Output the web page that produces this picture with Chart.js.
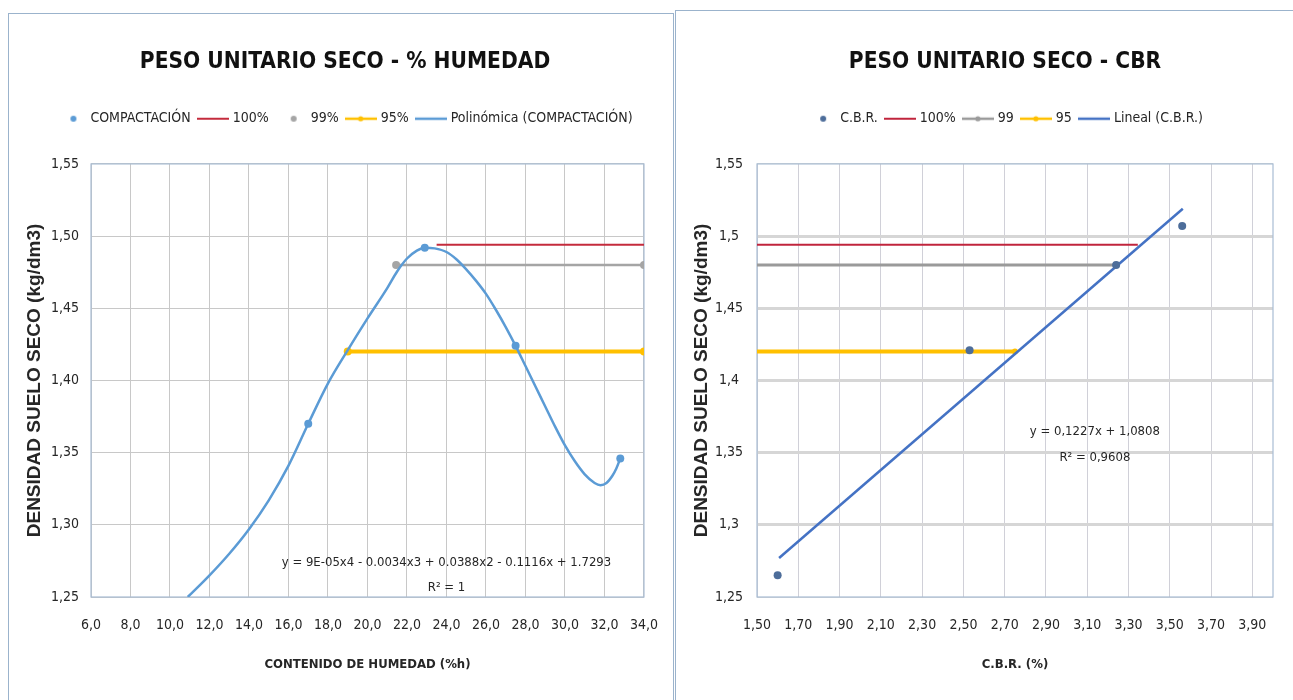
<!DOCTYPE html>
<html><head><meta charset="utf-8">
<script src="https://cdn.jsdelivr.net/npm/chart.js@4.4.0/dist/chart.umd.min.js"></script>
<style>
html,body{margin:0;padding:0;background:#fff;width:1293px;height:700px;overflow:hidden;position:relative;}
.panel{position:absolute;border:1px solid #9bb3cc;background:#fff;box-sizing:border-box;}
#p1{left:8px;top:13px;width:666px;height:720px;}
#p2{left:675px;top:10px;width:640px;height:720px;}
canvas{position:absolute;}
#c1{left:9px;top:14px;width:669px;height:686px;}
#c2{left:676px;top:11px;width:622px;height:689px;}
</style></head><body>
<div class="panel" id="p1"></div><div class="panel" id="p2"></div>
<canvas id="c1" width="669" height="686"></canvas>
<canvas id="c2" width="622" height="689"></canvas>
<script>
// ---------- data: left chart (PESO UNITARIO SECO - % HUMEDAD) ----------
const humedad = [17.0, 22.9, 27.5, 32.8];
const densidad = [1.370, 1.492, 1.424, 1.346];
const polyX = [10.9, 12.0, 13.0, 14.0, 15.0, 16.0, 17.0, 18.0, 19.0, 20.0, 21.0, 21.5, 22.0, 22.5, 22.9, 23.4, 24.0, 24.5, 25.0, 25.5, 26.0, 26.5, 27.0, 27.5, 28.0, 28.5, 29.0, 29.5, 30.0, 30.5, 31.0, 31.5, 31.8, 32.1, 32.4, 32.6, 32.8];
const polyY = [1.250, 1.265, 1.280, 1.297, 1.317, 1.341, 1.370, 1.398, 1.421, 1.443, 1.464, 1.4755, 1.4845, 1.490, 1.492, 1.4915, 1.489, 1.484, 1.477, 1.469, 1.460, 1.449, 1.437, 1.424, 1.410, 1.396, 1.382, 1.368, 1.355, 1.344, 1.335, 1.329, 1.3275, 1.329, 1.334, 1.339, 1.346];
const h100X = [23.5, 34.0], h100Y = [1.494, 1.494];
const h99X = [21.45, 34.0], h99Y = [1.480, 1.480];
const h95X = [19.0, 34.0], h95Y = [1.420, 1.420];
const leftXTicks = [6, 8, 10, 12, 14, 16, 18, 20, 22, 24, 26, 28, 30, 32, 34];
const leftYTicks = [1.25, 1.30, 1.35, 1.40, 1.45, 1.50, 1.55];

// ---------- data: right chart (PESO UNITARIO SECO - CBR) ----------
const cbr = [1.60, 2.53, 3.24, 3.56];
const cbrDens = [1.265, 1.421, 1.480, 1.507];
const linealX = [1.607, 3.563], linealY = [1.277, 1.519];
const c100X = [1.50, 3.345], c100Y = [1.494, 1.494];
const c99X = [1.50, 3.24], c99Y = [1.480, 1.480];
const c95X = [1.50, 2.75], c95Y = [1.420, 1.420];
const rightXTicks = [1.5, 1.7, 1.9, 2.1, 2.3, 2.5, 2.7, 2.9, 3.1, 3.3, 3.5, 3.7, 3.9];
const rightYTicks = [1.25, 1.3, 1.35, 1.4, 1.45, 1.5, 1.55];

const pts = (xs, ys) => xs.map((x, i) => ({x, y: ys[i]}));
const NARROW = '"Liberation Sans Narrow","DejaVu Sans Condensed",sans-serif';
const WIDE = '"Liberation Sans",Arial,sans-serif';
const TXT = '#262626';

function makeSym(kind, color, lw) {
  const c = document.createElement('canvas'); c.width = 32; c.height = 14;
  const g = c.getContext('2d');
  if (kind === 'dot') {
    g.fillStyle = color; g.beginPath(); g.arc(19, 7, 3, 0, Math.PI * 2); g.fill();
  } else {
    g.strokeStyle = color; g.lineWidth = lw; g.beginPath(); g.moveTo(0, 7); g.lineTo(32, 7); g.stroke();
    if (kind === 'lineMarker') { g.fillStyle = color; g.beginPath(); g.arc(16, 7, 2.6, 0, Math.PI * 2); g.fill(); }
  }
  return c;
}
function legendGen(symbols) {
  return function (chart) {
    return chart.data.datasets.map((ds, i) => ({
      text: ds.label, pointStyle: symbols[i], fillStyle: 'rgba(0,0,0,0)', strokeStyle: 'rgba(0,0,0,0)',
      lineWidth: 0, hidden: false, datasetIndex: i, fontColor: TXT
    }));
  };
}
const plotBorder = {
  id: 'plotBorder',
  beforeDatasetsDraw(chart, args, opts) {
    const a = chart.chartArea, ctx = chart.ctx;
    ctx.save(); ctx.strokeStyle = opts.color; ctx.lineWidth = 1.2;
    ctx.strokeRect(a.left, a.top, a.right - a.left, a.bottom - a.top);
    ctx.restore();
  }
};
const eqText = {
  id: 'eqText',
  afterDatasetsDraw(chart, args, opts) {
    const ctx = chart.ctx, xs = chart.scales.x, ys = chart.scales.y;
    ctx.save(); ctx.fillStyle = TXT; ctx.font = opts.font; ctx.textAlign = 'center'; ctx.textBaseline = 'middle';
    opts.lines.forEach(l => ctx.fillText(l.text, xs.getPixelForValue(l.x), ys.getPixelForValue(l.y)));
    ctx.restore();
  }
};
function fixTicks(arr) { return function (scale) { scale.ticks = arr.map(v => ({value: v})); }; }
const legendLabels = (syms) => ({usePointStyle: true, pointStyleWidth: 26, boxHeight: 14, padding: 9,
  font: {family: NARROW, size: 14}, color: TXT, generateLabels: legendGen(syms)});

// ---------- left chart ----------
new Chart(document.getElementById('c1'), {
  type: 'scatter',
  data: {
    datasets: [
      {label: 'COMPACTACIÓN', data: pts(humedad, densidad), showLine: false, pointRadius: 4, pointBackgroundColor: '#5b9bd5', pointBorderWidth: 0, order: 0},
      {label: '100%', data: pts(h100X, h100Y), showLine: true, borderColor: '#c42b3c', borderWidth: 2, pointRadius: 0, order: 3},
      {label: '99%', data: pts(h99X, h99Y), showLine: true, borderColor: '#a5a5a5', borderWidth: 2.5, pointRadius: 4, pointBackgroundColor: '#a5a5a5', pointBorderWidth: 0, order: 3},
      {label: '95%', data: pts(h95X, h95Y), showLine: true, borderColor: '#ffc000', borderWidth: 4, pointRadius: 4, pointBackgroundColor: '#ffc000', pointBorderWidth: 0, order: 3},
      {label: 'Polinómica (COMPACTACIÓN)', data: pts(polyX, polyY), showLine: true, borderColor: '#5b9bd5', borderWidth: 2.5, pointRadius: 0, cubicInterpolationMode: 'monotone', order: 1}
    ]
  },
  options: {
    responsive: false, animation: false, devicePixelRatio: 1,
    layout: {padding: {left: 3, right: 0, top: 0, bottom: 0}},
    plugins: {
      title: {display: true, text: 'PESO UNITARIO SECO - % HUMEDAD', color: '#111', font: {family: NARROW, size: 22.5, weight: 'bold'}, padding: {top: 34.5, bottom: 27.25}},
      subtitle: {display: true, text: ' ', weight: 500, font: {size: 1}, padding: {top: 27, bottom: 0}},
      legend: {display: true, labels: legendLabels([
        makeSym('dot', '#5b9bd5'), makeSym('line', '#c42b3c', 2), makeSym('dot', '#a5a5a5'), makeSym('lineMarker', '#ffc000', 2.5), makeSym('line', '#5b9bd5', 2.5)])},
      tooltip: {enabled: false},
      plotBorder: {color: '#a9bdd4'},
      eqText: {font: '13px ' + NARROW, lines: [
        {text: 'y = 9E-05x4 - 0.0034x3 + 0.0388x2 - 0.1116x + 1.7293', x: 24.0, y: 1.2736},
        {text: 'R² = 1', x: 24.0, y: 1.2563}]}
    },
    scales: {
      x: {type: 'linear', min: 6, max: 34, afterBuildTicks: fixTicks(leftXTicks),
        afterFit(s) { s.height = 103; },
        grid: {color: '#c8c8c8', lineWidth: 1, drawTicks: false}, border: {display: false},
        ticks: {padding: 20, color: TXT, font: {family: NARROW, size: 14}, maxRotation: 0, autoSkip: false, callback: v => v.toFixed(1).replace('.', ',')},
        title: {display: true, text: 'CONTENIDO DE HUMEDAD (%h)', color: TXT, font: {family: NARROW, size: 13, weight: 'bold'}, padding: {top: 0, bottom: 28}}},
      y: {type: 'linear', min: 1.25, max: 1.55, afterBuildTicks: fixTicks(leftYTicks),
        afterFit(s) { s.width = 79; },
        grid: {color: '#c8c8c8', lineWidth: 1, drawTicks: false}, border: {display: false},
        ticks: {padding: 12, color: TXT, font: {family: NARROW, size: 14}, autoSkip: false, callback: v => v.toFixed(2).replace('.', ',')},
        title: {display: true, text: 'DENSIDAD SUELO SECO (kg/dm3)', color: TXT, font: {family: WIDE, size: 19, weight: 'bold'}, padding: {top: 11.6, bottom: 0}}}
    }
  },
  plugins: [plotBorder, eqText]
});

// ---------- right chart ----------
const lastY = rightYTicks.length - 1;
new Chart(document.getElementById('c2'), {
  type: 'scatter',
  data: {
    datasets: [
      {label: 'C.B.R.', data: pts(cbr, cbrDens), showLine: false, pointRadius: 4, pointBackgroundColor: '#4d6d9a', pointBorderWidth: 0, order: 0},
      {label: '100%', data: pts(c100X, c100Y), showLine: true, borderColor: '#c0243c', borderWidth: 2, pointRadius: 0, order: 3},
      {label: '99', data: pts(c99X, c99Y), showLine: true, borderColor: '#9a9a9a', borderWidth: 3, pointRadius: [0, 3], pointBackgroundColor: '#9a9a9a', pointBorderWidth: 0, order: 3},
      {label: '95', data: pts(c95X, c95Y), showLine: true, borderColor: '#ffc000', borderWidth: 4, pointRadius: [0, 3], pointBackgroundColor: '#ffc000', pointBorderWidth: 0, order: 3},
      {label: 'Lineal (C.B.R.)', data: pts(linealX, linealY), showLine: true, borderColor: '#4472c4', borderWidth: 2.5, pointRadius: 0, order: 1}
    ]
  },
  options: {
    responsive: false, animation: false, devicePixelRatio: 1,
    layout: {padding: {left: 36, right: 0, top: 0, bottom: 0}},
    plugins: {
      title: {display: true, text: 'PESO UNITARIO SECO - CBR', color: '#111', font: {family: NARROW, size: 22.5, weight: 'bold'}, padding: {top: 37.5, bottom: 27.25}},
      subtitle: {display: true, text: ' ', weight: 500, font: {size: 1}, padding: {top: 27, bottom: 0}},
      legend: {display: true, labels: legendLabels([
        makeSym('dot', '#4d6d9a'), makeSym('line', '#c0243c', 2), makeSym('lineMarker', '#9a9a9a', 2.5), makeSym('lineMarker', '#ffc000', 2.5), makeSym('line', '#4472c4', 2.5)])},
      tooltip: {enabled: false},
      plotBorder: {color: '#a9bdd4'},
      eqText: {font: '13px ' + NARROW, lines: [
        {text: 'y = 0,1227x + 1,0808', x: 3.137, y: 1.3646},
        {text: 'R² = 0,9608', x: 3.137, y: 1.3465}]}
    },
    scales: {
      x: {type: 'linear', min: 1.5, max: 4.0, afterBuildTicks: fixTicks(rightXTicks),
        afterFit(s) { s.height = 103; },
        grid: {color: '#d0d0d8', lineWidth: 1, drawTicks: false}, border: {display: false},
        ticks: {padding: 20, color: TXT, font: {family: NARROW, size: 14}, maxRotation: 0, autoSkip: false, callback: v => v.toFixed(2).replace('.', ',')},
        title: {display: true, text: 'C.B.R. (%)', color: TXT, font: {family: NARROW, size: 13, weight: 'bold'}, padding: {top: 0, bottom: 28}}},
      y: {type: 'linear', min: 1.25, max: 1.55, afterBuildTicks: fixTicks(rightYTicks),
        afterFit(s) { s.width = 45; },
        grid: {color: '#d6d6d6', lineWidth: c => (c.index === 0 || c.index === lastY) ? 1 : 3, drawTicks: false}, border: {display: false},
        ticks: {padding: 14, crossAlign: 'center', color: TXT, font: {family: NARROW, size: 14}, autoSkip: false, callback: v => String(v).replace('.', ',')},
        title: {display: true, text: 'DENSIDAD SUELO SECO (kg/dm3)', color: TXT, font: {family: WIDE, size: 19, weight: 'bold'}, padding: {top: -21.9, bottom: 0}}},
      yPad: {type: 'linear', axis: 'y', position: 'right', display: true, min: 0, max: 1,
        afterFit(s) { s.width = 25; },
        grid: {display: false, drawTicks: false}, border: {display: false}, ticks: {display: false}, title: {display: false}}
    }
  },
  plugins: [plotBorder, eqText]
});
</script>
</body></html>
